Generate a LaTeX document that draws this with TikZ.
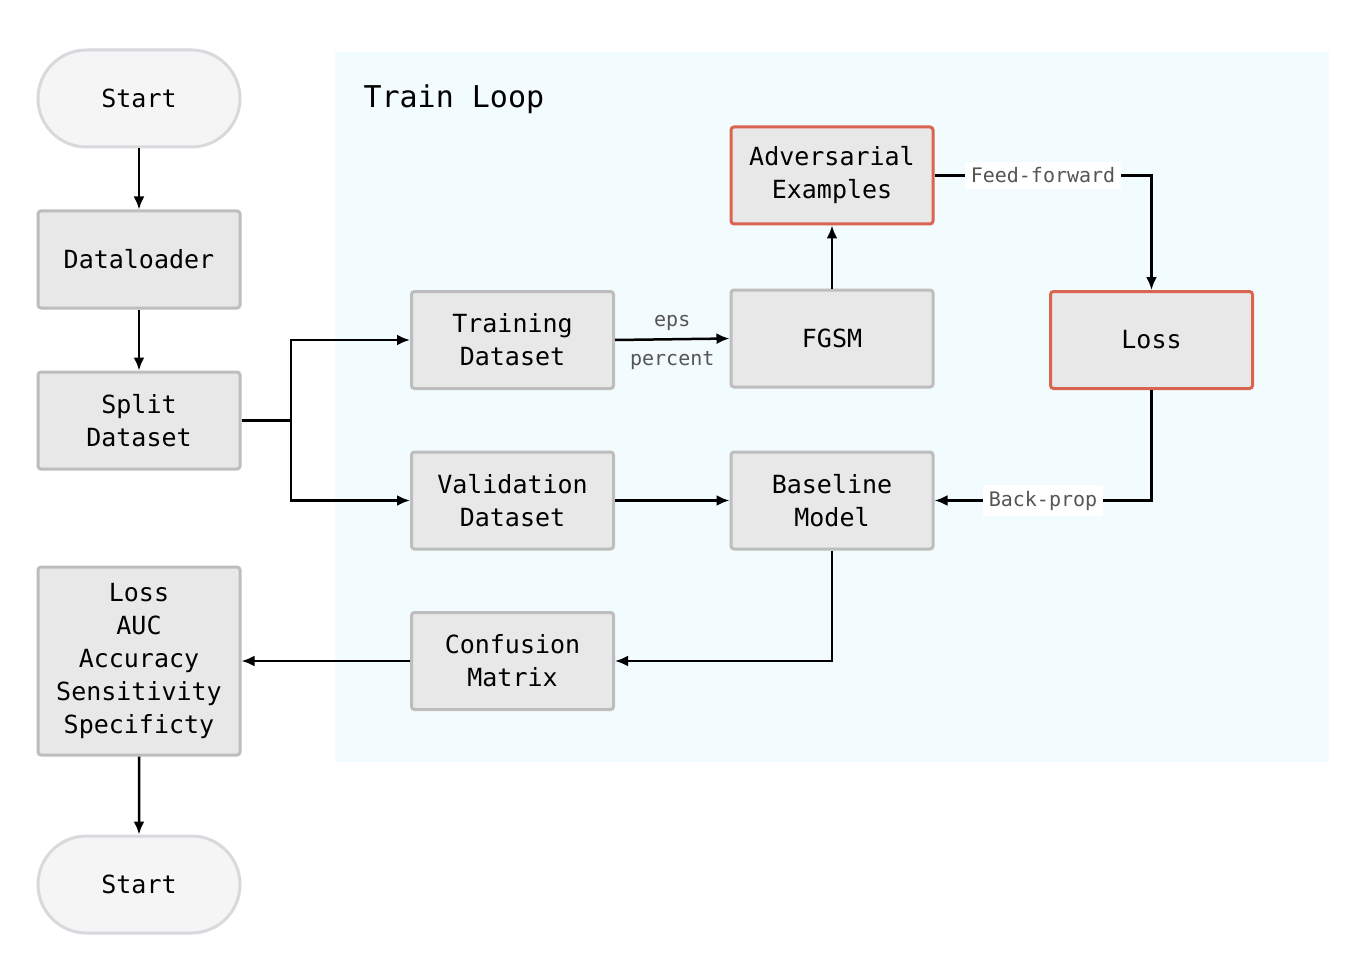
\documentclass[tikz,border=0pt]{standalone}
\usepackage{fontspec}
\setmonofont{DejaVu Sans Mono}
\usetikzlibrary{arrows.meta,shapes.misc}
\definecolor{bgc}{HTML}{F2FBFE}
\definecolor{boxfill}{HTML}{E8E8E8}
\definecolor{boxline}{HTML}{BDBDBD}
\definecolor{pillfill}{HTML}{F5F5F5}
\definecolor{pillline}{HTML}{D8D8DD}
\definecolor{redline}{HTML}{DA6450}
\definecolor{lblc}{HTML}{555555}
\tikzset{
  base/.style={font=\ttfamily\fontsize{25}{33}\selectfont, align=center, inner sep=0pt, line width=3pt},
  box/.style={base, rectangle, rounded corners=3pt, draw=boxline, fill=boxfill, minimum width=202pt, minimum height=97pt},
  redbox/.style={box, draw=redline},
  pill/.style={base, rounded rectangle, draw=pillline, fill=pillfill, minimum width=202pt, minimum height=97pt},
  conn/.style={line width=2.5pt, -{Latex[length=13pt,width=11pt]}},
  elabel/.style={font=\ttfamily\fontsize{20}{24}\selectfont, text=lblc, inner sep=6pt},
}
\begin{document}
\begin{tikzpicture}[x=1pt,y=-1pt]
\useasboundingbox[fill=white] (0,0) rectangle (1372,976);
\fill[bgc] (335,52) rectangle (1329,762);
\node[anchor=base west, font=\ttfamily\fontsize{30}{36}\selectfont] (title) at (360,108) {Train Loop};

\node[pill] (start) at (139,98.5) {Start};
\node[box] (loader) at (139,259.5) {Dataloader};
\node[box] (split) at (139,420.5) {Split\\Dataset};
\node[box, minimum height=188pt] (metrics) at (139,661) {Loss\\AUC\\Accuracy\\Sensitivity\\Specificty};
\node[pill] (end) at (139,884.5) {Start};

\node[box] (train) at (512.5,340) {Training\\Dataset};
\node[box] (valid) at (512.5,500.5) {Validation\\Dataset};
\node[box] (conf) at (512.5,661) {Confusion\\Matrix};

\node[box] (fgsm) at (832,338.5) {FGSM};
\node[box] (base) at (832,500.5) {Baseline\\Model};
\node[redbox] (adv) at (832,175.5) {Adversarial\\Examples};
\node[redbox] (loss) at (1151.5,340) {Loss};

\coordinate (sp) at (291,420.5);
\draw[conn] (start) -- (loader);
\draw[conn] (loader) -- (split);
\draw[line width=2.5pt] (split.east) -- (sp);
\draw[conn] (sp) |- (train.west);
\draw[conn] (sp) |- (valid.west);
\draw[conn] (train.east) -- (fgsm.west)
  node[midway, above=7pt, elabel, inner sep=0pt] {eps}
  node[midway, below=11pt, elabel, inner sep=0pt] {percent};
\draw[conn] (fgsm) -- (adv);
\draw[conn] (adv.east) -| (loss.north)
  node[pos=0.25, elabel, fill=white] {Feed-forward};
\draw[conn] (loss.south) |- (base.east)
  node[pos=0.75, elabel, fill=white] {Back-prop};
\draw[conn] (valid) -- (base);
\draw[conn] (base.south) |- (conf.east);
\draw[conn] (conf) -- (metrics);
\draw[conn] (metrics) -- (end);
\end{tikzpicture}
\end{document}
